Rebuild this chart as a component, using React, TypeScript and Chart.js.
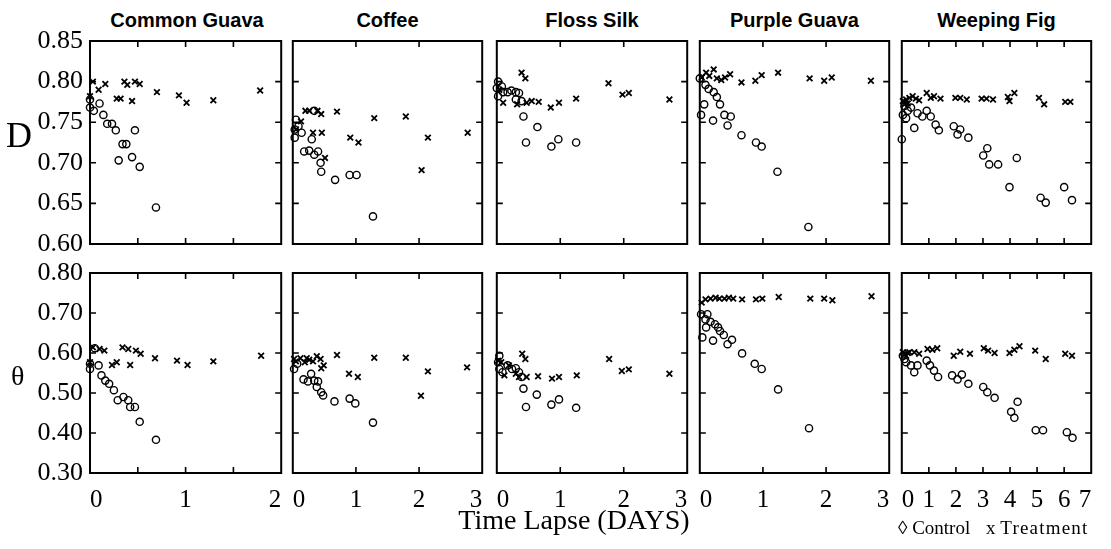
import React, { useEffect, useRef } from "react";
import { Chart, registerables } from "chart.js";
Chart.register(...registerables);

// ---------- DATA ----------
const species = ["Common Guava", "Coffee", "Floss Silk", "Purple Guava", "Weeping Fig"];
const xMax = [2, 3, 3, 3, 7];
const xLabelTicks = [[0, 1, 2], [0, 1, 2, 3], [0, 1, 2, 3], [0, 1, 2, 3], [0, 1, 2, 3, 4, 5, 6, 7]];
const xInnerTicks = [[0.5, 1, 1.5], [1, 2], [1, 2], [1, 2], [1, 2, 3, 4, 5, 6]];
const dTicks = [0.6, 0.65, 0.7, 0.75, 0.8, 0.85];
const dInnerTicks = [0.65, 0.7, 0.75, 0.8];
const thetaTicks = [0.3, 0.4, 0.5, 0.6, 0.7, 0.8];
const thetaInnerTicks = [0.4, 0.5, 0.6, 0.7];
const seriesNames = ["Control", "Treatment"];

// D (top row)
const guavaDControl = [[0, 0.778], [0, 0.768], [0.04, 0.764], [0.1, 0.773], [0.14, 0.759], [0.18, 0.748], [0.23, 0.748], [0.27, 0.74], [0.3, 0.703], [0.34, 0.723], [0.38, 0.723], [0.44, 0.707], [0.47, 0.74], [0.52, 0.695], [0.69, 0.645]];
const guavaDTreatment = [[0, 0.782], [0.03, 0.8], [0.09, 0.79], [0.16, 0.797], [0.28, 0.779], [0.32, 0.779], [0.36, 0.8], [0.39, 0.796], [0.44, 0.776], [0.47, 0.8], [0.52, 0.797], [0.7, 0.787], [0.93, 0.783], [1.01, 0.774], [1.29, 0.777], [1.78, 0.789]];
const coffeeDControl = [[0.05, 0.753], [0.03, 0.741], [0.03, 0.731], [0.09, 0.745], [0.14, 0.737], [0.18, 0.714], [0.26, 0.715], [0.3, 0.729], [0.34, 0.764], [0.34, 0.71], [0.4, 0.714], [0.44, 0.7], [0.45, 0.689], [0.67, 0.679], [0.9, 0.685], [1.01, 0.685], [1.27, 0.634]];
const coffeeDTreatment = [[0.05, 0.741], [0.13, 0.751], [0.2, 0.764], [0.26, 0.764], [0.32, 0.737], [0.39, 0.764], [0.45, 0.76], [0.46, 0.737], [0.51, 0.706], [0.7, 0.763], [0.91, 0.731], [1.04, 0.725], [1.29, 0.755], [1.79, 0.757], [2.14, 0.731], [2.04, 0.691], [2.77, 0.737]];
const flossDControl = [[0.02, 0.8], [0, 0.792], [0.02, 0.782], [0.08, 0.794], [0.1, 0.787], [0.17, 0.787], [0.23, 0.789], [0.3, 0.787], [0.35, 0.786], [0.3, 0.778], [0.39, 0.776], [0.42, 0.757], [0.46, 0.725], [0.64, 0.744], [0.86, 0.72], [0.97, 0.729], [1.25, 0.725]];
const flossDTreatment = [[0.04, 0.79], [0.1, 0.774], [0.32, 0.772], [0.39, 0.811], [0.45, 0.804], [0.47, 0.774], [0.55, 0.776], [0.66, 0.775], [0.85, 0.768], [0.98, 0.774], [1.25, 0.779], [1.76, 0.798], [1.98, 0.784], [2.08, 0.786], [2.72, 0.778]];
const purpleDControl = [[0, 0.804], [0.02, 0.759], [0.07, 0.772], [0.09, 0.796], [0.14, 0.791], [0.21, 0.752], [0.22, 0.787], [0.27, 0.781], [0.32, 0.772], [0.39, 0.759], [0.44, 0.746], [0.49, 0.757], [0.66, 0.734], [0.89, 0.725], [0.98, 0.72], [1.23, 0.689], [1.72, 0.621]];
const purpleDTreatment = [[0.03, 0.805], [0.1, 0.811], [0.15, 0.807], [0.22, 0.815], [0.27, 0.804], [0.34, 0.802], [0.4, 0.805], [0.48, 0.809], [0.66, 0.799], [0.88, 0.801], [0.98, 0.808], [1.24, 0.811], [1.74, 0.804], [1.97, 0.801], [2.09, 0.805], [2.71, 0.801]];
const figDControl = [[0, 0.729], [0.04, 0.759], [0.1, 0.77], [0.16, 0.755], [0.22, 0.764], [0.34, 0.768], [0.46, 0.743], [0.58, 0.761], [0.76, 0.757], [0.92, 0.764], [1.07, 0.757], [1.25, 0.747], [1.37, 0.74], [1.92, 0.745], [2.06, 0.735], [2.16, 0.741], [2.46, 0.731], [3.01, 0.709], [3.16, 0.718], [3.23, 0.698], [3.56, 0.698], [3.98, 0.67], [4.25, 0.706], [5.13, 0.657], [5.32, 0.651], [6.0, 0.67], [6.29, 0.654]];
const figDTreatment = [[0.04, 0.776], [0.1, 0.772], [0.16, 0.778], [0.22, 0.773], [0.28, 0.78], [0.4, 0.782], [0.52, 0.779], [0.64, 0.777], [0.92, 0.786], [1.07, 0.78], [1.19, 0.782], [1.43, 0.779], [1.98, 0.78], [2.16, 0.78], [2.4, 0.778], [2.95, 0.779], [3.13, 0.779], [3.37, 0.778], [3.92, 0.781], [3.98, 0.776], [4.16, 0.786], [5.07, 0.78], [5.26, 0.772], [6.04, 0.775], [6.23, 0.775]];

// Theta (bottom row)
const guavaTControl = [[0, 0.56], [0, 0.573], [0.05, 0.612], [0.09, 0.569], [0.12, 0.544], [0.16, 0.531], [0.2, 0.523], [0.25, 0.507], [0.29, 0.482], [0.35, 0.49], [0.4, 0.482], [0.42, 0.465], [0.47, 0.465], [0.52, 0.428], [0.69, 0.383]];
const guavaTTreatment = [[0, 0.577], [0.03, 0.614], [0.1, 0.61], [0.15, 0.606], [0.23, 0.57], [0.28, 0.577], [0.34, 0.614], [0.4, 0.61], [0.42, 0.57], [0.48, 0.606], [0.53, 0.598], [0.68, 0.587], [0.91, 0.581], [1.02, 0.57], [1.29, 0.579], [1.79, 0.593]];
const coffeeTControl = [[0.02, 0.56], [0.07, 0.573], [0.17, 0.534], [0.24, 0.529], [0.29, 0.548], [0.34, 0.531], [0.38, 0.515], [0.4, 0.529], [0.45, 0.502], [0.48, 0.494], [0.66, 0.479], [0.9, 0.486], [0.99, 0.474], [1.27, 0.426]];
const coffeeTTreatment = [[0.02, 0.585], [0.05, 0.579], [0.12, 0.587], [0.19, 0.577], [0.22, 0.587], [0.26, 0.583], [0.32, 0.579], [0.38, 0.592], [0.44, 0.585], [0.45, 0.562], [0.49, 0.569], [0.7, 0.595], [0.89, 0.548], [1.03, 0.54], [1.29, 0.588], [1.79, 0.588], [2.14, 0.554], [2.03, 0.493], [2.76, 0.564]];
const flossTControl = [[0.04, 0.593], [0.02, 0.577], [0.04, 0.56], [0.09, 0.552], [0.17, 0.569], [0.24, 0.56], [0.3, 0.562], [0.35, 0.552], [0.39, 0.54], [0.42, 0.511], [0.46, 0.465], [0.63, 0.496], [0.86, 0.471], [0.98, 0.484], [1.25, 0.463]];
const flossTTreatment = [[0.02, 0.581], [0.07, 0.577], [0.12, 0.544], [0.19, 0.569], [0.3, 0.548], [0.35, 0.54], [0.4, 0.598], [0.45, 0.585], [0.47, 0.54], [0.65, 0.542], [0.87, 0.536], [0.98, 0.54], [1.26, 0.544], [1.77, 0.585], [1.97, 0.555], [2.08, 0.559], [2.72, 0.548]];
const purpleTControl = [[0.02, 0.697], [0.04, 0.639], [0.09, 0.684], [0.12, 0.697], [0.1, 0.664], [0.17, 0.678], [0.21, 0.631], [0.24, 0.672], [0.29, 0.664], [0.32, 0.655], [0.38, 0.645], [0.44, 0.622], [0.51, 0.633], [0.67, 0.599], [0.87, 0.573], [0.98, 0.56], [1.24, 0.509], [1.73, 0.412]];
const purpleTTreatment = [[0.03, 0.726], [0.09, 0.734], [0.17, 0.736], [0.25, 0.738], [0.31, 0.736], [0.39, 0.736], [0.46, 0.738], [0.53, 0.736], [0.67, 0.734], [0.89, 0.734], [0.99, 0.736], [1.25, 0.74], [1.75, 0.736], [1.97, 0.736], [2.1, 0.732], [2.72, 0.742]];
const figTControl = [[0.04, 0.593], [0.1, 0.585], [0.16, 0.577], [0.34, 0.569], [0.46, 0.552], [0.58, 0.569], [0.92, 0.581], [1.04, 0.569], [1.19, 0.556], [1.34, 0.54], [1.86, 0.544], [2.06, 0.534], [2.22, 0.546], [2.46, 0.523], [3.01, 0.515], [3.16, 0.502], [3.43, 0.488], [4.04, 0.453], [4.16, 0.438], [4.28, 0.478], [4.95, 0.407], [5.22, 0.407], [6.1, 0.402], [6.31, 0.388]];
const figTTreatment = [[0.04, 0.602], [0.1, 0.596], [0.16, 0.593], [0.22, 0.6], [0.28, 0.602], [0.46, 0.602], [0.64, 0.598], [0.95, 0.61], [1.13, 0.608], [1.31, 0.612], [1.92, 0.593], [2.16, 0.603], [2.52, 0.598], [3.03, 0.612], [3.19, 0.606], [3.43, 0.6], [3.98, 0.6], [4.16, 0.608], [4.35, 0.617], [4.93, 0.606], [5.32, 0.585], [6.04, 0.598], [6.29, 0.593]];

const dControl = [guavaDControl, coffeeDControl, flossDControl, purpleDControl, figDControl];
const dTreatment = [guavaDTreatment, coffeeDTreatment, flossDTreatment, purpleDTreatment, figDTreatment];
const tControl = [guavaTControl, coffeeTControl, flossTControl, purpleTControl, figTControl];
const tTreatment = [guavaTTreatment, coffeeTTreatment, flossTTreatment, purpleTTreatment, figTTreatment];

// ---------- LAYOUT ----------
const plotLeft = [90, 290, 494, 697, 899];
const plotRight = [284, 485, 690, 892, 1094];
const rowTop = [41, 273];
const rowBottom = [244, 473];
const SERIF = "'Liberation Serif', 'Times New Roman', serif";
const SANS = "'Liberation Sans', Arial, sans-serif";

function Panel({ col, row }: { col: number; row: number }) {
  const ref = useRef<HTMLCanvasElement>(null);
  const ML = col === 0 ? 90 : 3;
  const MR = 3;
  const MT = 14;
  const MB = row === 1 ? 52 : 14;
  const pw = plotRight[col] - plotLeft[col];
  const ph = rowBottom[row] - rowTop[row];
  const W = pw + ML + MR;
  const H = ph + MT + MB;

  useEffect(() => {
    const yLabelTicks = row === 0 ? dTicks : thetaTicks;
    const yInner = row === 0 ? dInnerTicks : thetaInnerTicks;
    const ctrl = row === 0 ? dControl[col] : tControl[col];
    const trt = row === 0 ? dTreatment[col] : tTreatment[col];
    const frame = {
      id: "frame" + row + col,
      afterDatasetsDraw(chart: any) {
        const { ctx, chartArea: a, scales } = chart;
        ctx.save();
        ctx.strokeStyle = "#000";
        ctx.lineWidth = 2;
        ctx.strokeRect(a.left, a.top, a.right - a.left, a.bottom - a.top);
        ctx.lineWidth = 1.6;
        ctx.beginPath();
        for (const v of xInnerTicks[col]) {
          const px = scales.x.getPixelForValue(v);
          ctx.moveTo(px, a.top);
          ctx.lineTo(px, a.top + 6);
          ctx.moveTo(px, a.bottom);
          ctx.lineTo(px, a.bottom - 6);
        }
        for (const v of yInner) {
          const py = scales.y.getPixelForValue(v);
          ctx.moveTo(a.left, py);
          ctx.lineTo(a.left + 6, py);
          ctx.moveTo(a.right, py);
          ctx.lineTo(a.right - 6, py);
        }
        ctx.stroke();
        ctx.restore();
      },
    };
    const chart = new Chart(ref.current!, {
      type: "scatter",
      data: {
        datasets: [
          {
            label: seriesNames[0],
            data: ctrl.map(([x, y]) => ({ x, y })),
            pointStyle: "circle",
            pointRadius: 3.6,
            borderWidth: 1.4,
            borderColor: "#000",
            backgroundColor: "rgba(0,0,0,0)",
            clip: false,
          },
          {
            label: seriesNames[1],
            data: trt.map(([x, y]) => ({ x, y })),
            pointStyle: "crossRot",
            pointRadius: 4,
            borderWidth: 1.8,
            borderColor: "#000",
            backgroundColor: "#000",
            clip: false,
          },
        ],
      },
      options: {
        animation: false,
        responsive: false,
        devicePixelRatio: 1,
        events: [],
        layout: { padding: { left: 0, right: MR, top: MT, bottom: 0 } },
        plugins: { legend: { display: false }, tooltip: { enabled: false } },
        scales: {
          x: {
            type: "linear",
            position: "bottom",
            min: 0,
            max: xMax[col],
            afterBuildTicks: (s: any) => {
              s.ticks = xLabelTicks[col].map((v) => ({ value: v }));
            },
            afterFit: (s: any) => {
              s.height = MB;
              s.paddingLeft = 0;
              s.paddingRight = 0;
              s.paddingTop = 0;
              s.paddingBottom = 0;
            },
            grid: { display: false, drawTicks: false },
            border: { display: false },
            ticks: {
              display: row === 1,
              align: "inner",
              autoSkip: false,
              maxRotation: 0,
              padding: 12,
              color: "#000",
              font: { family: SERIF, size: 25 },
              callback: (v: any) => String(v),
            },
          },
          y: {
            type: "linear",
            min: yLabelTicks[0],
            max: yLabelTicks[yLabelTicks.length - 1],
            afterBuildTicks: (s: any) => {
              s.ticks = yLabelTicks.map((v) => ({ value: v }));
            },
            afterFit: (s: any) => {
              s.width = ML;
              s.paddingLeft = 0;
              s.paddingRight = 0;
              s.paddingTop = 0;
              s.paddingBottom = 0;
            },
            grid: { display: false, drawTicks: false },
            border: { display: false },
            ticks: {
              display: col === 0,
              padding: 7,
              color: "#000",
              font: { family: SERIF, size: 26 },
              callback: (v: any) => Number(v).toFixed(2),
            },
          },
        },
      },
      plugins: [frame],
    });
    return () => chart.destroy();
  }, [col, row]);

  return (
    <canvas
      ref={ref}
      width={W}
      height={H}
      style={{ position: "absolute", left: plotLeft[col] - ML, top: rowTop[row] - MT, width: W, height: H }}
    />
  );
}

export default function App() {
  const panels = [];
  for (let r = 0; r < 2; r++) for (let c = 0; c < 5; c++) panels.push(<Panel key={r + "-" + c} col={c} row={r} />);
  const legendFont = `19px ${SERIF}`;
  return (
    <div style={{ position: "absolute", left: 0, top: 0, width: 1111, height: 549, background: "#fff", overflow: "hidden" }}>
      {species.map((s, i) => (
        <div
          key={s}
          style={{
            position: "absolute",
            left: (plotLeft[i] + plotRight[i]) / 2 - 100,
            width: 200,
            top: 10,
            textAlign: "center",
            font: `bold 20px ${SANS}`,
            lineHeight: "20px",
            color: "#000",
          }}
        >
          {s}
        </div>
      ))}
      {panels}
      <div style={{ position: "absolute", left: 6, top: 117, font: `36px ${SERIF}`, lineHeight: "36px", color: "#000" }}>D</div>
      <div style={{ position: "absolute", left: 11, top: 362, font: `28px ${SERIF}`, lineHeight: "28px", color: "#000" }}>θ</div>
      <div style={{ position: "absolute", left: 374, width: 400, top: 506, textAlign: "center", font: `28px ${SERIF}`, lineHeight: "28px", color: "#000" }}>
        Time Lapse (DAYS)
      </div>
      <div style={{ position: "absolute", left: 898, top: 518, font: legendFont, lineHeight: "19px", color: "#000", whiteSpace: "pre" }}>
        {"◊ " + seriesNames[0]}
      </div>
      <div style={{ position: "absolute", left: 986, top: 518, font: legendFont, lineHeight: "19px", color: "#000", whiteSpace: "pre" }}>
        {"x "}
        <span style={{ letterSpacing: "1.2px" }}>{seriesNames[1]}</span>
      </div>
    </div>
  );
}
